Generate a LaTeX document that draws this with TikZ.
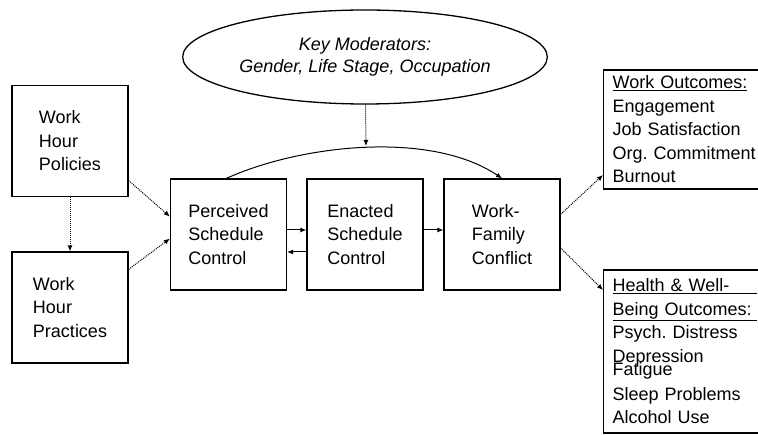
\documentclass[tikz,border=0pt]{standalone}
\usepackage{fontspec}
\setmainfont{Liberation Sans}
\usetikzlibrary{shapes,arrows.meta,positioning,calc}
\frenchspacing

\begin{document}
\begin{tikzpicture}[x=1pt,y=-1pt,font=\fontsize{18}{23.5}\selectfont]
  % Define styles
  \tikzstyle{box} = [rectangle, draw, line width=1.3pt, minimum width=116pt, minimum height=111pt, align=left, inner sep=0pt]
  \tikzstyle{outbox} = [rectangle, draw, line width=1.3pt, anchor=west, text width=150pt, inner xsep=9pt, align=left]
  \tikzstyle{moderator} = [ellipse, draw, line width=1.3pt, minimum width=362pt, minimum height=94pt, align=center, font=\fontsize{18}{22}\selectfont\itshape]
  \tikzstyle{arrow} = [line width=1pt, -{Latex[length=6pt,width=5pt]}]
  \tikzstyle{dotarrow} = [arrow, densely dotted]

  % Page frame, right boxes run off the edge
  \path [use as bounding box, clip] (0,0) rectangle (758,435);

  % Left column and main chain
  \node [box] (policies) at (70,141) {Work\\Hour\\Policies};
  \node [box] (practices) at (70,307.5) {Work\\Hour\\Practices};
  \node [box] (perceived) at (228.5,234.5) {Perceived\\Schedule\\Control};
  \node [box] (enacted) at (365,234.5) {Enacted\\Schedule\\Control};
  \node [box] (conflict) at (502,234.5) {Work-\\Family\\Conflict};

  % Moderators on top
  \node [moderator] (moderators) at (365,57) {Key Moderators:\\Gender, Life Stage, Occupation};

  % Outcome boxes on the right
  \node [outbox, minimum height=119pt] (workout) at (603,129.5) {
    \underline{Work Outcomes:}\\
    Engagement\\
    Job Satisfaction\\
    Org. Commitment\\
    Burnout
  };
  \node [outbox, minimum height=163pt] (health) at (603,351.5) {
    \underline{\makebox[144pt][l]{Health \& Well-}}\\
    \underline{\makebox[144pt][l]{Being Outcomes:}}\\
    Psych. Distress\\
    Depression\\[-10pt]
    Fatigue\\[1pt]
    Sleep Problems\\
    Alcohol Use
  };

  % Connectors
  \draw [dotarrow] (policies) -- (practices);
  \draw [dotarrow] (policies.-34) -- (perceived.163);
  \draw [dotarrow] (practices.33) -- (perceived.184);
  \draw [arrow] ([yshift=4.5pt]perceived.east) -- ([yshift=4.5pt]enacted.west);
  \draw [arrow] ([yshift=-17.5pt]enacted.west) -- ([yshift=-17.5pt]perceived.east);
  \draw [arrow] ([yshift=4.5pt]enacted.east) -- ([yshift=4.5pt]conflict.west);
  \draw [dotarrow] (conflict.19) -- ([yshift=-45.5pt]workout.west);
  \draw [dotarrow] (conflict.-13) -- ([yshift=61.5pt]health.west);

  % Direct path over the chain, moderated from above
  \draw [arrow] ([xshift=-2pt]perceived.north) .. controls (300,145) and (430,130) .. (conflict.north);
  \coordinate (peak) at (366,146);
  \draw [dotarrow] (moderators) -- (peak);

\end{tikzpicture}
\end{document}
